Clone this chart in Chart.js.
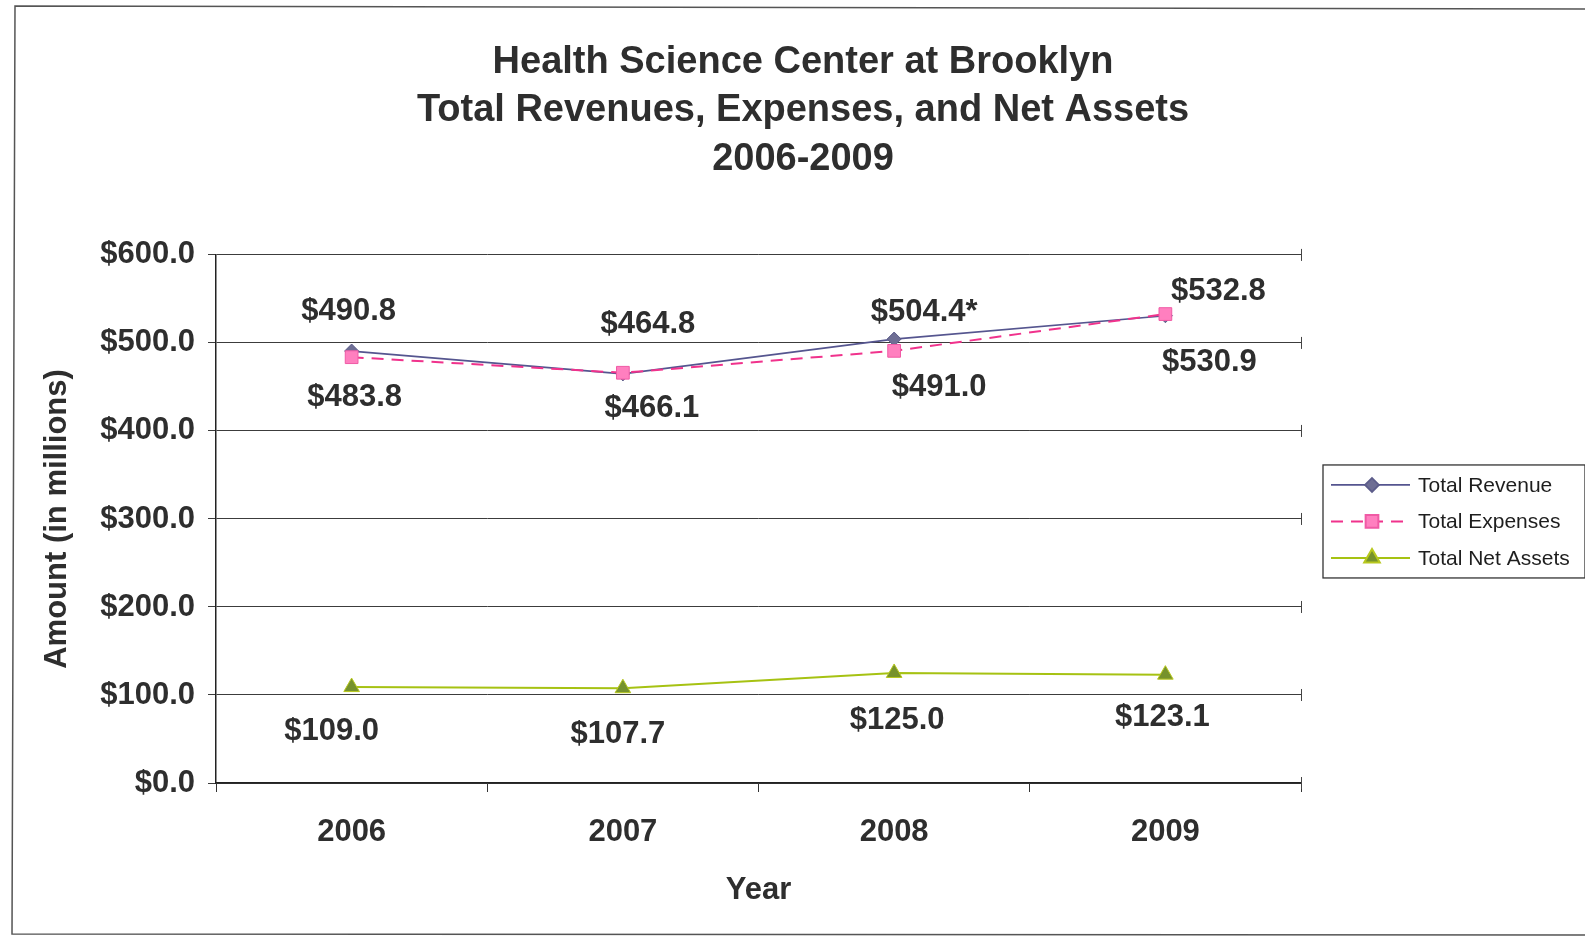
<!DOCTYPE html>
<html>
<head>
<meta charset="utf-8">
<script src="https://cdn.jsdelivr.net/npm/chart.js@4.4.1/dist/chart.umd.min.js"></script>
<style>
  html, body { margin: 0; padding: 0; background: #ffffff; }
  canvas { display: block; }
</style>
</head>
<body>
<canvas id="c" width="1585" height="936"></canvas>
<script>
// ---- data ----
const years = ['2006', '2007', '2008', '2009'];
const seriesNames = ['Total Revenue', 'Total Expenses', 'Total Net Assets'];
const revenue = [490.8, 464.8, 504.4, 530.9];
const expenses = [483.8, 466.1, 491.0, 532.8];
const netAssets = [109.0, 107.7, 125.0, 123.1];
const revenueNotes = ['', '', '*', ''];
const yTickValues = [0, 100, 200, 300, 400, 500, 600];
const titleLines = ['Health Science Center at Brooklyn', 'Total Revenues, Expenses, and Net Assets', '2006-2009'];
const yAxisTitle = 'Amount (in millions)';
const xAxisTitle = 'Year';

// ---- styling ----
const FONT = '"Liberation Sans", Arial, Helvetica, sans-serif';
const TEXT = '#2e2e2e';
const fmt = v => '$' + v.toFixed(1);

// label placement (pixel offsets from each point) – styling only
const labelOffsets = [
  [[-3, -40], [25, -49], [30, -27], [44, 47]],   // revenue
  [[3, 40], [29, 36], [45, 37], [53, -23]],      // expenses
  [[-20, 44], [-5, 46], [3, 47], [-3, 43]]       // net assets
];

const labelPlugin = {
  id: 'pointLabels',
  afterDatasetsDraw(chart) {
    const ctx = chart.ctx;
    ctx.save();
    ctx.font = 'bold 31px ' + FONT;
    ctx.fillStyle = TEXT;
    ctx.textAlign = 'center';
    ctx.textBaseline = 'middle';
    chart.data.datasets.forEach((ds, i) => {
      const meta = chart.getDatasetMeta(i);
      meta.data.forEach((pt, j) => {
        const note = ds.notes ? ds.notes[j] : '';
        const off = labelOffsets[i][j];
        ctx.fillText(fmt(ds.data[j]) + note, pt.x + off[0], pt.y + off[1]);
      });
    });
    ctx.restore();
  }
};

const frameAndLegend = {
  id: 'frameAndLegend',
  beforeDraw(chart) {
    const ctx = chart.ctx;
    ctx.save();
    ctx.fillStyle = '#ffffff';
    ctx.fillRect(0, 0, chart.width, chart.height);
    ctx.restore();
  },
  afterDraw(chart) {
    const ctx = chart.ctx;
    const ca = chart.chartArea;
    ctx.save();
    // outer frame
    ctx.strokeStyle = '#555';
    ctx.lineWidth = 1.5;
    ctx.beginPath();
    ctx.moveTo(1590, 9);
    ctx.lineTo(15, 6);
    ctx.lineTo(12, 934);
    ctx.lineTo(1590, 935);
    ctx.stroke();

    // small end marks at right of gridlines
    const ys = chart.scales.y;
    ctx.strokeStyle = '#444';
    ctx.lineWidth = 1;
    yTickValues.forEach(v => {
      const y = ys.getPixelForValue(v);
      ctx.beginPath();
      ctx.moveTo(ca.right + 0.5, y - 6);
      ctx.lineTo(ca.right + 0.5, y + 6);
      ctx.stroke();
    });

    // legend
    const bx = ca.right + 22, bw = 262, bh = 113;
    const by = (ca.top + ca.bottom) / 2 - 54;
    ctx.fillStyle = '#ffffff';
    ctx.fillRect(bx, by, bw, bh);
    ctx.strokeStyle = '#333';
    ctx.lineWidth = 1.3;
    ctx.strokeRect(bx, by, bw, bh);
    ctx.font = '21px ' + FONT;
    ctx.textBaseline = 'middle';
    ctx.textAlign = 'left';
    chart.data.datasets.forEach((ds, i) => {
      const y = by + 20 + i * 36.5;
      ctx.save();
      ctx.strokeStyle = ds.borderColor;
      ctx.lineWidth = ds.borderWidth;
      ctx.setLineDash(ds.borderDash || []);
      ctx.beginPath();
      ctx.moveTo(bx + 8, y);
      ctx.lineTo(bx + 87, y);
      ctx.stroke();
      ctx.setLineDash([]);
      ctx.fillStyle = ds.pointBackgroundColor;
      ctx.strokeStyle = ds.pointBorderColor;
      Chart.helpers.drawPoint(ctx, {
        pointStyle: ds.pointStyle, radius: ds.pointRadius, borderWidth: ds.pointBorderWidth, rotation: 0
      }, bx + 49, y);
      ctx.restore();
      ctx.fillStyle = '#1e1e1e';
      ctx.fillText(ds.label, bx + 95, y + 1);
    });
    ctx.restore();
  }
};

new Chart(document.getElementById('c'), {
  type: 'line',
  data: {
    labels: years,
    datasets: [
      {
        label: seriesNames[0], data: revenue, notes: revenueNotes,
        borderColor: '#55558f', borderWidth: 1.7,
        pointStyle: 'rectRot', pointRadius: 7, pointBorderWidth: 1,
        pointBackgroundColor: '#6e6e94', pointBorderColor: '#5c5c8a',
        tension: 0, fill: false, order: 1
      },
      {
        label: seriesNames[1], data: expenses,
        borderColor: '#f0328c', borderWidth: 2, borderDash: [12, 8],
        pointStyle: 'rect', pointRadius: 9, pointBorderWidth: 1,
        pointBackgroundColor: '#ff7fbf', pointBorderColor: '#f05aa5',
        tension: 0, fill: false, order: 0
      },
      {
        label: seriesNames[2], data: netAssets,
        borderColor: '#a6c212', borderWidth: 2,
        pointStyle: 'triangle', pointRadius: 9, pointBorderWidth: 1,
        pointBackgroundColor: '#76922c', pointBorderColor: '#b8c81e',
        tension: 0, fill: false, order: 2
      }
    ]
  },
  options: {
    responsive: false,
    animation: false,
    devicePixelRatio: 1,
    layout: { padding: { left: 30, right: 9, top: 10, bottom: 20 } },
    plugins: {
      legend: { display: false },
      tooltip: { enabled: false },
      title: {
        display: true,
        text: titleLines,
        color: TEXT,
        font: { family: FONT, size: 38, weight: 'bold', lineHeight: 1.28 },
        padding: { top: 28, bottom: 71 }
      }
    },
    scales: {
      x: {
        type: 'category',
        offset: true,
        grid: { display: true, offset: true, drawOnChartArea: false, drawTicks: true, tickLength: 9, color: '#333', lineWidth: 1 },
        border: { display: true, color: '#222', width: 1.5 },
        ticks: { color: TEXT, font: { family: FONT, size: 31, weight: 'bold' }, padding: 22, maxRotation: 0 },
        title: { display: true, text: xAxisTitle, color: TEXT, font: { family: FONT, size: 31, weight: 'bold' }, padding: { top: 0, bottom: 7 } },
        afterFit(s) { s.height = 133; }
      },
      y: {
        type: 'linear',
        position: 'left',
        min: 0, max: 600,
        afterBuildTicks(s) { s.ticks = yTickValues.map(v => ({ value: v })); },
        grid: { display: true, drawOnChartArea: true, drawTicks: true, tickLength: 8, color: '#3c3c3c', lineWidth: 1 },
        border: { display: true, color: '#222', width: 1.5 },
        ticks: { color: TEXT, font: { family: FONT, size: 31, weight: 'bold' }, padding: 13, callback: v => fmt(v) },
        title: { display: true, text: yAxisTitle, color: TEXT, font: { family: FONT, size: 31, weight: 'bold' }, padding: { top: 9, bottom: 0 } },
        afterFit(s) { s.width = 186; }
      },
      yRight: {
        type: 'linear',
        position: 'right',
        display: true,
        grid: { display: false, drawTicks: false },
        border: { display: false },
        ticks: { display: false },
        afterFit(s) { s.width = 275; }
      }
    }
  },
  plugins: [labelPlugin, frameAndLegend]
});
</script>
</body>
</html>
